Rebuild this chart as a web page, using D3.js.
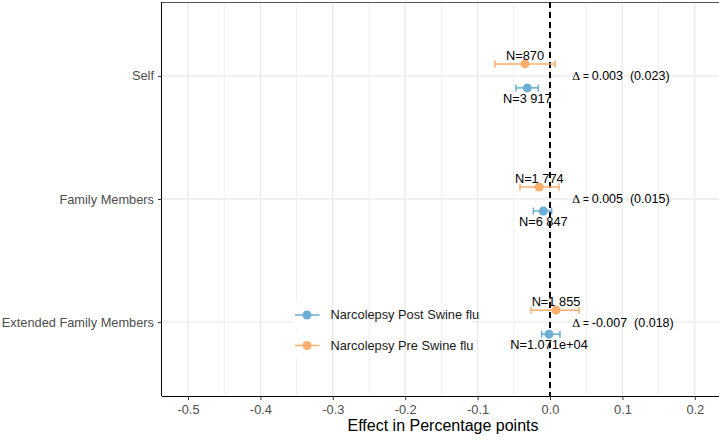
<!DOCTYPE html>
<html>
<head>
<meta charset="utf-8">
<script src="https://cdn.jsdelivr.net/npm/d3@7"></script>
<style>
  body{margin:0;background:#fff;}
  text{font-family:"Liberation Sans",Arial,sans-serif;}
</style>
</head>
<body>
<div id="chart"></div>
<script>
// data
const categories = ['Self', 'Family Members', 'Extended Family Members'];
const series = ['Narcolepsy Pre Swine flu', 'Narcolepsy Post Swine flu'];
const preEst  = [-0.0345, -0.0148, 0.0083];
const preLo   = [-0.0760, -0.0414, -0.0262];
const preHi   = [0.0069, 0.0124, 0.0401];
const preN    = ['N=870', 'N=1 774', 'N=1 855'];
const postEst = [-0.0313, -0.0092, -0.0014];
const postLo  = [-0.0470, -0.0230, -0.0115];
const postHi  = [-0.0163, 0.0023, 0.0138];
const postN   = ['N=3 917', 'N=6 847', 'N=1.071e+04'];
const deltas  = ['0.003', '0.005', '-0.007'];
const deltaSE = ['(0.023)', '(0.015)', '(0.018)'];
const xTicks  = [-0.5, -0.4, -0.3, -0.2, -0.1, 0.0, 0.1, 0.2];
const xMinor  = [-0.45, -0.35, -0.25, -0.15, -0.05, 0.05, 0.15];
const legendOrder = ['Narcolepsy Post Swine flu', 'Narcolepsy Pre Swine flu'];

const colors = d3.scaleOrdinal().domain(series).range(['#fdae6b', '#6baed6']);

const W = 719, H = 440;
const margin = {top: 2, left: 162, bottom: 44};
const panelRight = 730;
const panelBottom = H - margin.bottom;
const fs = '12.8px';

const rows = [];
categories.forEach((c, i) => {
  rows.push({cat: c, s: series[0], est: preEst[i], lo: preLo[i], hi: preHi[i], n: preN[i]});
  rows.push({cat: c, s: series[1], est: postEst[i], lo: postLo[i], hi: postHi[i], n: postN[i]});
});

const svg = d3.select('#chart').append('svg')
  .attr('width', W).attr('height', H);

const x = d3.scaleLinear().domain([-0.5, 0.2]).range([188, 694.8]);
const y = d3.scalePoint().domain(categories).range([margin.top, panelBottom]).padding(0.6);
const dodge = d3.scalePoint().domain(series).range([-12, 12]);

// horizontal grid
svg.append('g').selectAll('line').data(categories).enter().append('line')
  .attr('x1', margin.left).attr('x2', panelRight)
  .attr('y1', d => y(d)).attr('y2', d => y(d))
  .attr('stroke', '#ebebeb').attr('stroke-width', 1.4);

// legend background hides the row line
const legX = 292, legY = 303;
svg.append('rect').attr('x', legX).attr('y', legY).attr('width', 180).attr('height', 54).attr('fill', '#fff');

// vertical grid
svg.append('g').selectAll('line').data(xMinor).enter().append('line')
  .attr('x1', d => x(d)).attr('x2', d => x(d))
  .attr('y1', margin.top).attr('y2', panelBottom)
  .attr('stroke', '#f0f0f0').attr('stroke-width', 1);
svg.append('g').selectAll('line').data(xTicks).enter().append('line')
  .attr('x1', d => x(d)).attr('x2', d => x(d))
  .attr('y1', margin.top).attr('y2', panelBottom)
  .attr('stroke', '#ebebeb').attr('stroke-width', 1.4);

// top border
svg.append('line').attr('x1', margin.left).attr('x2', panelRight)
  .attr('y1', margin.top + 0.5).attr('y2', margin.top + 0.5)
  .attr('stroke', '#555').attr('stroke-width', 1);

// axes
const xAxis = svg.append('g').attr('transform', 'translate(0,' + panelBottom + ')')
  .call(d3.axisBottom(x).tickValues(xTicks).tickFormat(d3.format('.1f')).tickSize(4).tickPadding(5));
xAxis.select('.domain').attr('d', 'M' + margin.left + ',0.5H' + panelRight).attr('stroke', '#000');
xAxis.selectAll('.tick line').attr('stroke', '#333');
xAxis.selectAll('.tick text').attr('fill', '#4d4d4d').style('font-size', fs)
  .text(d => d3.format('.1f')(d).replace('−', '-'));

const yAxis = svg.append('g').attr('transform', 'translate(' + margin.left + ',0)')
  .call(d3.axisLeft(y).tickSize(4).tickPadding(4));
yAxis.select('.domain').attr('d', 'M-0.5,' + margin.top + 'V' + panelBottom).attr('stroke', '#000');
yAxis.selectAll('.tick line').attr('stroke', '#333');
yAxis.selectAll('.tick text').attr('fill', '#4d4d4d').style('font-size', fs);

svg.append('text').attr('x', 443).attr('y', 431)
  .attr('text-anchor', 'middle').style('font-size', '16px').attr('fill', '#000')
  .text('Effect in Percentage points');

// zero line
svg.append('line').attr('x1', x(0)).attr('x2', x(0))
  .attr('y1', margin.top).attr('y2', panelBottom)
  .attr('stroke', '#000').attr('stroke-width', 2).attr('stroke-dasharray', '6,4');

// error bars and points
const py = d => y(d.cat) + dodge(d.s);
const marks = svg.append('g');
marks.selectAll('.bar').data(rows).enter().append('line')
  .attr('x1', d => x(d.lo)).attr('x2', d => x(d.hi))
  .attr('y1', py).attr('y2', py)
  .attr('stroke', d => colors(d.s)).attr('stroke-width', 1.5);
['lo', 'hi'].forEach(k => {
  marks.selectAll('.cap-' + k).data(rows).enter().append('line')
    .attr('x1', d => x(d[k])).attr('x2', d => x(d[k]))
    .attr('y1', d => py(d) - 3.5).attr('y2', d => py(d) + 3.5)
    .attr('stroke', d => colors(d.s)).attr('stroke-width', 1.5);
});
marks.selectAll('circle').data(rows).enter().append('circle')
  .attr('cx', d => x(d.est)).attr('cy', py).attr('r', 4.5)
  .attr('fill', d => colors(d.s));

// N labels
marks.selectAll('.nlab').data(rows).enter().append('text')
  .attr('x', d => x(d.est))
  .attr('y', d => py(d) + (d.s === series[0] ? -8.5 : 10.5))
  .attr('dy', '0.35em').attr('text-anchor', 'middle')
  .style('font-size', fs).attr('fill', '#000')
  .text(d => d.n);

// delta labels
const dl = svg.append('g').selectAll('text').data(categories).enter().append('text')
  .attr('x', 572).attr('y', d => y(d)).attr('dy', '0.35em')
  .style('font-size', '12.5px').attr('fill', '#000').attr('xml:space', 'preserve');
dl.append('tspan').style('font-family', '"DejaVu Serif",serif').style('font-size', '11.5px').text('Δ');
dl.append('tspan').style('font-size', '10px').text(' = ');
dl.append('tspan').text((d, i) => deltas[i] + '  ' + deltaSE[i]);

// legend
const leg = svg.append('g').selectAll('g').data(legendOrder).enter().append('g')
  .attr('transform', (d, i) => 'translate(' + legX + ',' + (legY + 12 + i * 30.5) + ')');
leg.append('rect').attr('x', 0).attr('y', -13).attr('width', 29).attr('height', 26).attr('fill', '#fff');
leg.append('line').attr('x1', 3).attr('x2', 27.5).attr('y1', 0).attr('y2', 0)
  .attr('stroke', d => colors(d)).attr('stroke-width', 1.5);
leg.append('circle').attr('cx', 15).attr('cy', 0).attr('r', 4.5).attr('fill', d => colors(d));
leg.append('text').attr('x', 38.5).attr('y', 0).attr('dy', '0.35em')
  .style('font-size', fs).attr('fill', '#1a1a1a').text(d => d);
</script>
</body>
</html>
